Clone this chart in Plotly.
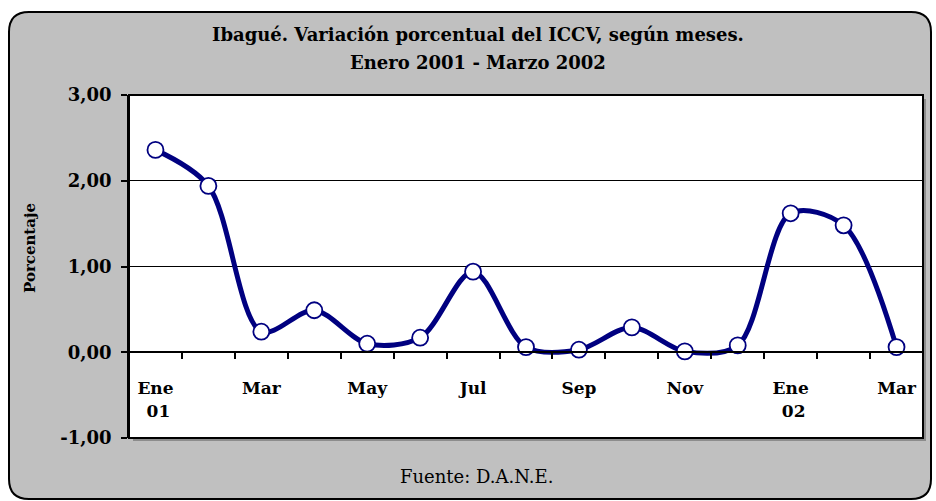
import plotly.graph_objects as go

# ---- data ----
months = ["Ene 01", "Feb", "Mar", "Abr", "May", "Jun", "Jul", "Ago",
          "Sep", "Oct", "Nov", "Dic", "Ene 02", "Feb", "Mar"]
values = [2.36, 1.94, 0.24, 0.49, 0.10, 0.17, 0.94, 0.06,
          0.03, 0.29, 0.01, 0.08, 1.62, 1.48, 0.06]
tick_positions = [0, 2, 4, 6, 8, 10, 12, 14]
tick_labels = ["Ene<br> 01", "Mar", "May", "Jul", "Sep", "Nov", "Ene<br> 02", "Mar"]
y_ticks = [-1, 0, 1, 2, 3]
y_tick_labels = [f"{v:.2f}".replace(".", ",") for v in y_ticks]
title_lines = ["Ibagué. Variación porcentual del ICCV, según meses.",
               "Enero 2001 - Marzo 2002"]

W, H = 936, 501
L, R, T, B = 129, 13, 95, 63
PW, PH = W - L - R, H - T - B

def px(x):
    return (x - L) / PW

def py(y):
    return (H - B - y) / PH

FONT = "DejaVu Serif"
NAVY = "#000080"

fig = go.Figure()
fig.add_trace(go.Scatter(
    x=list(range(len(values))), y=values,
    mode="lines+markers",
    line=dict(color=NAVY, width=5, shape="spline", smoothing=0.9),
    marker=dict(size=16, color="white", line=dict(color=NAVY, width=1.8)),
    hoverinfo="skip",
))

# outer rounded gray panel
x0, x1, y0, y1, r = 9, 931, 12, 499, 20
path = (
    f"M {px(x0+r)} {py(y0)} L {px(x1-r)} {py(y0)} "
    f"Q {px(x1)} {py(y0)} {px(x1)} {py(y0+r)} "
    f"L {px(x1)} {py(y1-r)} Q {px(x1)} {py(y1)} {px(x1-r)} {py(y1)} "
    f"L {px(x0+r)} {py(y1)} Q {px(x0)} {py(y1)} {px(x0)} {py(y1-r)} "
    f"L {px(x0)} {py(y0+r)} Q {px(x0)} {py(y0)} {px(x0+r)} {py(y0)} Z"
)
shapes = [
    dict(type="path", xref="paper", yref="paper", path=path,
         fillcolor="#C0C0C0", line=dict(color="black", width=2), layer="below"),
    # shadow of plot area
    dict(type="rect", xref="paper", yref="paper", x0=px(L + 4), x1=px(W - R + 3),
         y0=py(H - B + 3), y1=py(T + 4), fillcolor="#8C8C8C", line=dict(width=0), layer="below"),
    dict(type="rect", xref="paper", yref="paper", x0=0, x1=1, y0=0, y1=1,
         fillcolor="white", line=dict(color="black", width=2), layer="below"),
]

annotations = [
    dict(text=f"<b>{title_lines[0]}</b>",
         xref="paper", yref="paper", x=px(478), y=py(34), xanchor="center", yanchor="middle",
         showarrow=False, font=dict(family=FONT, size=18, color="black")),
    dict(text=f"<b>{title_lines[1]}</b>",
         xref="paper", yref="paper", x=px(478), y=py(63), xanchor="center", yanchor="middle",
         showarrow=False, font=dict(family=FONT, size=18, color="black")),
    dict(text="<b>Porcentaje</b>", textangle=-90,
         xref="paper", yref="paper", x=px(30), y=py(248), xanchor="center", yanchor="middle",
         showarrow=False, font=dict(family=FONT, size=15, color="black")),
    dict(text="Fuente: D.A.N.E.",
         xref="paper", yref="paper", x=px(476), y=py(476), xanchor="center", yanchor="middle",
         showarrow=False, font=dict(family=FONT, size=18, color="black")),
]

fig.update_layout(
    width=W, height=H,
    margin=dict(l=L, r=R, t=T, b=B),
    paper_bgcolor="white",
    plot_bgcolor="rgba(0,0,0,0)",
    showlegend=False,
    shapes=shapes,
    annotations=annotations,
    xaxis=dict(
        range=[-0.5, 14.5], anchor="free", position=0.25,
        showgrid=False, zeroline=False,
        showline=True, linecolor="black", linewidth=1.5,
        tickmode="array", tickvals=tick_positions, ticktext=tick_labels,
        ticks="", ticklabelstandoff=21,
        tickfont=dict(family=FONT, size=17, color="black", weight="bold"),
        minor=dict(tickmode="linear", tick0=0.5, dtick=1, ticks="outside",
                   ticklen=6, tickcolor="black", tickwidth=1.5, showgrid=False),
    ),
    yaxis=dict(
        range=[-1, 3], domain=[0, 1],
        tickmode="array", tickvals=y_ticks, ticktext=y_tick_labels,
        showgrid=True, gridcolor="black", gridwidth=1.2,
        zeroline=False,
        showline=True, linecolor="black", linewidth=1.5,
        ticks="outside", ticklen=6, tickcolor="black", tickwidth=1.5,
        ticklabelstandoff=6,
        tickfont=dict(family=FONT, size=18, color="black", weight="bold"),
    ),
)

fig.write_html("out.html", config={"displayModeBar": False},
               post_script="document.body.style.margin='0';")
